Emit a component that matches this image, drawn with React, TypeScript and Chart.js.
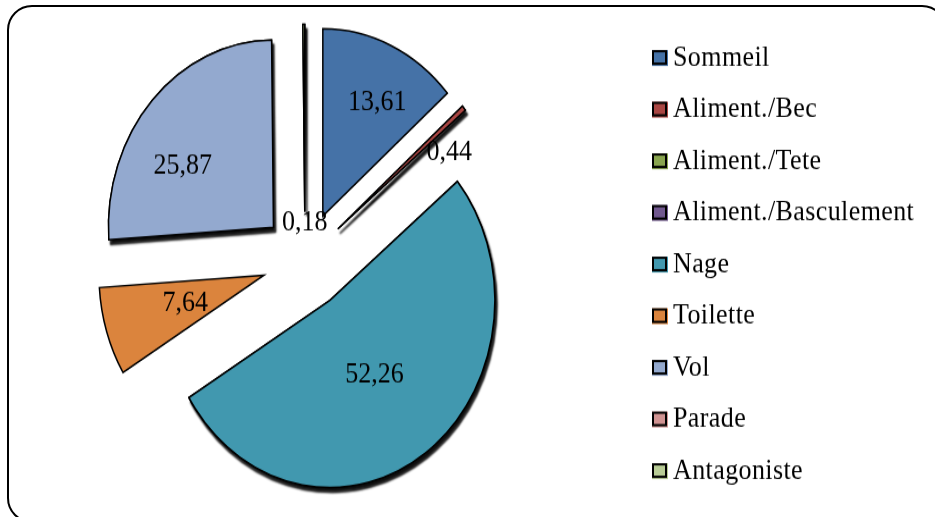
import { useEffect, useRef } from "react";
import { Chart, registerables } from "chart.js";

Chart.register(...registerables);

// ---- data ----
const categories = [
  "Sommeil",
  "Aliment./Bec",
  "Aliment./Tete",
  "Aliment./Basculement",
  "Nage",
  "Toilette",
  "Vol",
  "Parade",
  "Antagoniste",
];
const percentages = [13.61, 0.44, 0, 0, 52.26, 7.64, 25.87, 0, 0.18];
const sliceColors = [
  "#4572A7",
  "#AA4643",
  "#89A54E",
  "#71588F",
  "#4198AF",
  "#DB843D",
  "#93A9CF",
  "#D19392",
  "#B9CD96",
];

// ---- layout / style ----
const SCALE_Y = 1.135;
const CANVAS_W = 935;
const CANVAS_H = 466;
const CX = 305;
const CY = 229.5;
const RADIUS = 165;
const EXPLODE = 43;
const FONT = "'Liberation Serif', 'Times New Roman', serif";
const FONT_SIZE = 26;
const SHADOWED = [1, 4, 6, 8];
// [fraction of radius from slice apex, angle shift in degrees]
const LABEL_PLACEMENT: (number[] | null)[] = [
  [0.69, 4],
  [0.79, 9],
  null,
  null,
  [0.48, 1],
  [0.5, 0],
  [0.64, -12],
  null,
  [-0.06, 0],
];
const LEGEND_BOX_X = 652;
const LEGEND_TEXT_X = 673;
const LEGEND_TOP = 51.1;
const LEGEND_STEP = 45.5;
const LEGEND_BOX_W = 16;
const LEGEND_BOX_H = 14;

const fmt = (v: number) => v.toFixed(2).replace(".", ",");

const explodePlugin = {
  id: "explodeSlices",
  afterDatasetsUpdate(chart: any) {
    const meta = chart.getDatasetMeta(0);
    meta.data.forEach((arc: any) => {
      const mid = (arc.startAngle + arc.endAngle) / 2;
      arc.x += Math.cos(mid) * EXPLODE;
      arc.y += Math.sin(mid) * EXPLODE;
    });
  },
};

const shadowPlugin = {
  id: "sliceShadows",
  beforeDatasetsDraw(chart: any) {
    const ctx = chart.ctx;
    const meta = chart.getDatasetMeta(0);
    ctx.save();
    ctx.shadowColor = "rgba(0,0,0,0.95)";
    ctx.shadowBlur = 2;
    ctx.shadowOffsetX = 2;
    ctx.shadowOffsetY = 4;
    SHADOWED.forEach((i) => {
      const arc = meta.data[i];
      if (arc && percentages[i] > 0) arc.draw(ctx);
    });
    ctx.restore();
  },
};

const labelPlugin = {
  id: "sliceLabels",
  afterDatasetsDraw(chart: any) {
    const ctx = chart.ctx;
    const meta = chart.getDatasetMeta(0);
    ctx.save();
    ctx.font = `${FONT_SIZE}px ${FONT}`;
    ctx.fillStyle = "#000";
    ctx.textAlign = "center";
    ctx.textBaseline = "middle";
    meta.data.forEach((arc: any, i: number) => {
      const v = percentages[i];
      const p = LABEL_PLACEMENT[i];
      if (!(v > 0) || !p) return;
      const ang = (arc.startAngle + arc.endAngle) / 2 + (p[1] * Math.PI) / 180;
      const r = arc.outerRadius * p[0];
      ctx.fillText(fmt(v), arc.x + Math.cos(ang) * r, arc.y + Math.sin(ang) * r);
    });
    ctx.restore();
  },
};

const legendPlugin = {
  id: "sideLegend",
  afterDraw(chart: any) {
    const ctx = chart.ctx;
    const labels: string[] = chart.data.labels;
    const colors: string[] = chart.data.datasets[0].backgroundColor;
    ctx.save();
    ctx.font = `${FONT_SIZE}px ${FONT}`;
    ctx.textAlign = "left";
    ctx.textBaseline = "middle";
    try {
      (ctx as any).letterSpacing = "0.4px";
    } catch (e) {
      /* ignore */
    }
    labels.forEach((lab, i) => {
      const cy = LEGEND_TOP + i * LEGEND_STEP;
      const y0 = cy - LEGEND_BOX_H / 2;
      ctx.fillStyle = colors[i];
      ctx.fillRect(LEGEND_BOX_X, y0, LEGEND_BOX_W, LEGEND_BOX_H);
      ctx.strokeStyle = "#000";
      ctx.lineWidth = 2;
      ctx.strokeRect(LEGEND_BOX_X + 1, y0 + 1, LEGEND_BOX_W - 3, LEGEND_BOX_H - 3);
      ctx.fillStyle = "#000";
      ctx.fillText(lab, LEGEND_TEXT_X, cy);
    });
    ctx.restore();
  },
};

export default function App() {
  const ref = useRef<HTMLCanvasElement | null>(null);

  useEffect(() => {
    if (!ref.current) return;
    const chart = new Chart(ref.current, {
      type: "pie",
      data: {
        labels: categories,
        datasets: [
          {
            data: percentages,
            backgroundColor: sliceColors,
            borderColor: "#000",
            borderWidth: 1.5,
            borderJoinStyle: "miter",
          } as any,
        ],
      },
      options: {
        responsive: true,
        maintainAspectRatio: false,
        animation: false,
        radius: RADIUS,
        layout: {
          padding: {
            left: 0,
            top: 0,
            right: CANVAS_W - 2 * CX,
            bottom: CANVAS_H - 2 * CY,
          },
        },
        plugins: {
          legend: { display: false },
          tooltip: { enabled: false },
        },
      } as any,
      plugins: [explodePlugin, shadowPlugin, labelPlugin, legendPlugin],
    });
    return () => chart.destroy();
  }, []);

  return (
    <div
      style={{
        position: "fixed",
        left: 0,
        top: 0,
        width: 935,
        height: 517,
        overflow: "hidden",
        background: "#fff",
      }}
    >
      <div
        style={{
          position: "absolute",
          left: 0,
          top: 0,
          width: CANVAS_W,
          height: CANVAS_H,
          transform: `scaleY(${SCALE_Y})`,
          transformOrigin: "0 0",
        }}
      >
        <canvas ref={ref} />
      </div>
      <div
        style={{
          position: "absolute",
          left: 7,
          top: 5,
          width: 940,
          height: 518,
          border: "2px solid #000",
          borderRadius: 25,
          boxSizing: "border-box",
          pointerEvents: "none",
        }}
      />
    </div>
  );
}
